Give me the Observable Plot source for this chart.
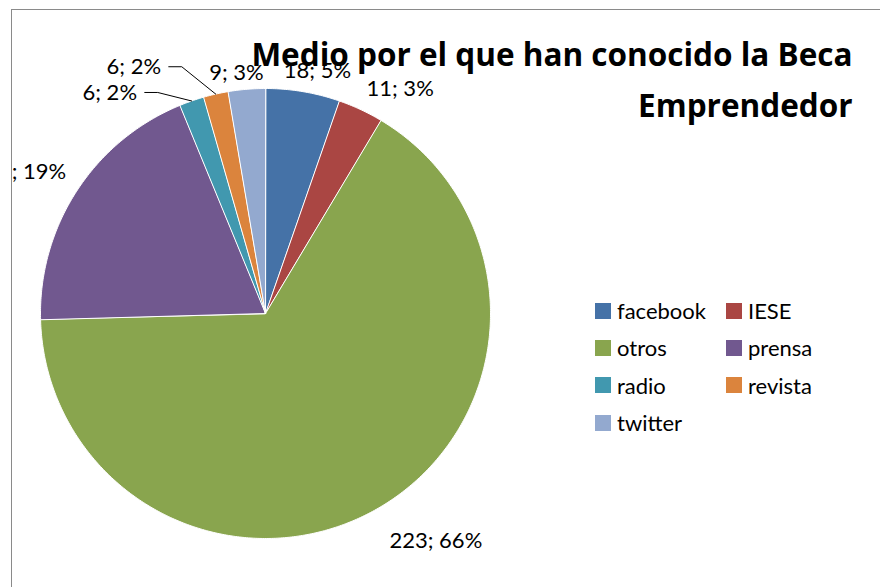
<!DOCTYPE html>
<html>
<head>
<meta charset="utf-8">
<script src="https://cdn.jsdelivr.net/npm/d3@7"></script>
<script src="https://cdn.jsdelivr.net/npm/@observablehq/plot@0.6"></script>
<style>
  html, body { margin: 0; padding: 0; background: #fff; width: 880px; height: 587px; overflow: hidden; }
  #wrap { position: relative; width: 880px; height: 587px; font-family: Lato, "Open Sans", sans-serif; }
  #chart svg { background: transparent !important; }
  #mask { position: absolute; left: 0; top: 0; width: 11px; height: 587px; background: #fff; }
  #frame { position: absolute; left: 11px; top: 9px; width: 920px; height: 700px; border: 1px solid #8a8a8a; pointer-events: none; }
  #legend { position: absolute; left: 595px; top: 292px; width: 262px; }
  #legend .lg-swatches { font-family: Lato, "Open Sans", sans-serif; font-size: 22px; color: #000; margin: 0; }
  #legend .lg-swatch { width: 131px; height: 37.3px; margin: 0 !important; }
  #legend .lg-swatch > svg { margin-right: 6px !important; }
</style>
</head>
<body>
<div id="wrap">
  <div id="chart"></div>
  <div id="legend"></div>
  <div id="mask"></div>
  <div id="frame"></div>
</div>
<script>
// ---- data ----
const categories = ["facebook", "IESE", "otros", "prensa", "radio", "revista", "twitter"];
const counts = [18, 11, 223, 65, 6, 6, 9];
const percents = [5, 3, 66, 19, 2, 2, 3];
const colors = ["#4572A7", "#AA4643", "#89A54E", "#71588F", "#4198AF", "#DB843D", "#93A9CF"];
const title = "Medio por el que han conocido la Beca\nEmprendedor";
const leaderCats = ["radio", "revista"];

// ---- layout (pixels) ----
const W = 880, H = 587;
const CX = 265, CY = 313, R = 225;        // pie centre / radius
const labelRadius = 1.12;                  // in pie radii
const labelNudge = {                        // px offsets of the data labels
  facebook: [10, 6], IESE: [28, 4], otros: [43, 10], prensa: [-28, -4],
  radio: [-73, 17], revista: [-76, -1], twitter: [-8, 11]
};

const data = categories.map((c, i) => ({category: c, value: counts[i], pct: percents[i]}));
const arcs = d3.pie().sort(null).value(d => d.value)(data);

// slice polygons from the pie angles
const slicePts = arcs.flatMap(a => {
  const n = Math.max(2, Math.ceil((a.endAngle - a.startAngle) / 0.01));
  const pts = [{category: a.data.category, x: 0, y: 0}];
  for (let k = 0; k <= n; k++) {
    const t = a.startAngle + (a.endAngle - a.startAngle) * k / n;
    pts.push({category: a.data.category, x: Math.sin(t), y: Math.cos(t)});
  }
  return pts;
});

// labels
const labels = arcs.map(a => {
  const mid = (a.startAngle + a.endAngle) / 2;
  const [nx, ny] = labelNudge[a.data.category];
  return {
    category: a.data.category,
    mid,
    x: labelRadius * Math.sin(mid) + nx / R,
    y: labelRadius * Math.cos(mid) - ny / R,
    text: `${a.data.value}; ${a.data.pct}%`
  };
});

// leader lines
const leaders = labels.filter(l => leaderCats.includes(l.category)).flatMap(l => [
  {category: l.category, x: l.x + 35 / R, y: l.y},
  {category: l.category, x: l.x + 48 / R, y: l.y},
  {category: l.category, x: Math.sin(l.mid), y: Math.cos(l.mid)}
]);

const plot = Plot.plot({
  width: W, height: H,
  margin: 0,
  style: {fontFamily: "Lato, 'Open Sans', sans-serif", background: "transparent"},
  x: {domain: [-CX / R, (W - CX) / R], range: [0, W], axis: null},
  y: {domain: [-(H - CY) / R, CY / R], range: [H, 0], axis: null},
  color: {domain: categories, range: colors},
  marks: [
    Plot.line(slicePts, {x: "x", y: "y", z: "category", fill: "category", stroke: "white", strokeWidth: 1, curve: "linear-closed"}),
    Plot.line(leaders, {x: "x", y: "y", z: "category", stroke: "black", strokeWidth: 1}),
    Plot.text(labels, {x: "x", y: "y", text: "text", fontSize: 22, fill: "black", textAnchor: "middle"}),
    Plot.text([title], {frameAnchor: "top-right", text: d => d, textAnchor: "end", lineAnchor: "top",
      dx: -28, dy: 29, fontSize: 31.5, fontWeight: "bold", fontFamily: "'Open Sans', Lato, sans-serif",
      lineHeight: 1.62, fill: "black"})
  ]
});
document.getElementById("chart").appendChild(plot);

const legend = plot.legend("color", {className: "lg", swatchSize: 16});
document.getElementById("legend").appendChild(legend);
</script>
</body>
</html>
